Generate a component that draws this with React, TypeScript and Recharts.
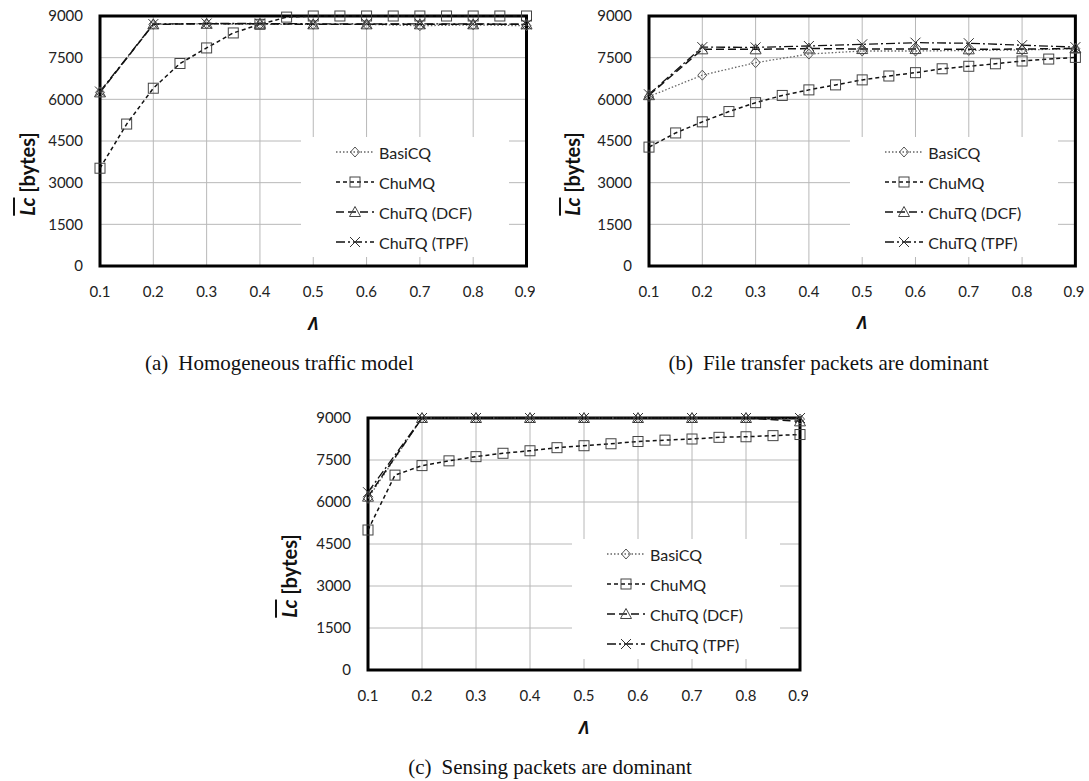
import type { FC, ReactElement } from "react";
import { LineChart, Line, XAxis, YAxis, CartesianGrid, ReferenceArea, Legend } from "recharts";

// x positions: every series is sampled at 0.1 steps except ChuMQ (0.05 steps)
const LAMBDA = [0.1, 0.2, 0.3, 0.4, 0.5, 0.6, 0.7, 0.8, 0.9];
const LAMBDA_FINE = [0.1, 0.15, 0.2, 0.25, 0.3, 0.35, 0.4, 0.45, 0.5, 0.55, 0.6, 0.65, 0.7, 0.75, 0.8, 0.85, 0.9];
const X_TICKS = [0.1, 0.2, 0.3, 0.4, 0.5, 0.6, 0.7, 0.8, 0.9];
const Y_TICKS = [0, 1500, 3000, 4500, 6000, 7500, 9000];

// (a) homogeneous traffic model
const basicqA = [6250, 8700, 8720, 8700, 8700, 8700, 8650, 8680, 8650];
const chumqA = [3520, 5110, 6400, 7290, 7850, 8390, 8700, 8960, 9000, 9000, 9000, 9000, 9000, 9000, 9000, 9000, 9000];
const dcfA = [6250, 8700, 8720, 8720, 8700, 8700, 8700, 8700, 8700];
const tpfA = [6280, 8710, 8730, 8730, 8720, 8720, 8720, 8720, 8700];

// (b) file transfer packets dominant
const basicqB = [6100, 6870, 7320, 7630, 7740, 7740, 7760, 7780, 7820];
const chumqB = [4280, 4790, 5190, 5560, 5880, 6140, 6340, 6520, 6700, 6840, 6960, 7100, 7190, 7280, 7380, 7450, 7510];
const dcfB = [6150, 7800, 7800, 7830, 7810, 7810, 7800, 7810, 7830];
const tpfB = [6180, 7880, 7870, 7920, 7980, 8040, 8020, 7950, 7880];

// (c) sensing packets dominant
const basicqC = [6130, 9000, 9000, 9000, 9000, 9000, 9000, 9000, 8960];
const chumqC = [5000, 6960, 7300, 7470, 7620, 7740, 7830, 7940, 8010, 8080, 8160, 8210, 8250, 8310, 8330, 8370, 8410];
const dcfC = [6190, 9000, 9000, 9000, 9000, 9000, 9000, 9000, 8880];
const tpfC = [6350, 9000, 9000, 9000, 9000, 9000, 9000, 9000, 9000];

type Kind = "diamond" | "square" | "triangle" | "cross";

const SERIES: { key: string; name: string; kind: Kind; dash: string; color: string; width: number }[] = [
  { key: "basicq", name: "BasiCQ", kind: "diamond", dash: "1.5 2", color: "#666", width: 1.3 },
  { key: "chumq", name: "ChuMQ", kind: "square", dash: "4 3", color: "#111", width: 1.5 },
  { key: "dcf", name: "ChuTQ (DCF)", kind: "triangle", dash: "8 4", color: "#111", width: 1.5 },
  { key: "tpf", name: "ChuTQ (TPF)", kind: "cross", dash: "9 3 2 3", color: "#111", width: 1.3 },
];

const toPoints = (xs: number[], ys: number[]) => xs.map((x, i) => ({ x, y: ys[i] }));

const Marker: FC<{ kind: Kind; cx: number; cy: number }> = ({ kind, cx, cy }) => {
  if (kind === "diamond")
    return <polygon points={`${cx},${cy - 5} ${cx + 4.5},${cy} ${cx},${cy + 5} ${cx - 4.5},${cy}`} fill="none" stroke="#555" strokeWidth={1} />;
  if (kind === "square")
    return <rect x={cx - 5} y={cy - 5} width={10} height={10} fill="none" stroke="#444" strokeWidth={1} />;
  if (kind === "triangle")
    return <polygon points={`${cx},${cy - 5.5} ${cx + 5.5},${cy + 4.5} ${cx - 5.5},${cy + 4.5}`} fill="none" stroke="#444" strokeWidth={1} />;
  return <path d={`M${cx - 5},${cy - 5}L${cx + 5},${cy + 5}M${cx + 5},${cy - 5}L${cx - 5},${cy + 5}`} stroke="#333" strokeWidth={1} fill="none" />;
};

const AXIS_W = 100;
const TOP = 16;
const RIGHT = 8;
const BOTTOM_H = 75;
const TICK_STYLE = { fill: "#222", fontSize: 15, fontFamily: "Lato" };

type PanelProps = {
  x: number;
  y: number;
  w: number;
  h: number;
  tag: string;
  caption: string;
  titleOffset: number;
  legendLeft: number;
  values: Record<string, number[]>;
};

const Panel: FC<PanelProps> = ({ x, y, w, h, tag, caption, titleOffset, legendLeft, values }) => {
  const renderLegend = () => (
    <div style={{ position: "relative", width: 208, height: 120, background: "#fff", fontFamily: "Lato", fontSize: 16, color: "#222" }}>
      {SERIES.map((s, i) => (
        <div key={s.key} style={{ position: "absolute", left: 0, top: i * 30, height: 30, display: "flex", alignItems: "center", whiteSpace: "nowrap" }}>
          <svg width={78} height={30}>
            <line x1={35} x2={73} y1={15} y2={15} stroke={s.color} strokeWidth={s.width} strokeDasharray={s.dash} />
            <Marker kind={s.kind} cx={54} cy={15} />
          </svg>
          <span>{s.name}</span>
        </div>
      ))}
    </div>
  );

  return (
    <>
      <div style={{ position: "absolute", left: x - AXIS_W, top: y - TOP }}>
        <LineChart width={AXIS_W + w + RIGHT} height={TOP + h + BOTTOM_H} margin={{ top: TOP, right: RIGHT, bottom: 0, left: 0 }}>
          <CartesianGrid stroke="#b8b8b8" strokeWidth={1} />
          <XAxis
            type="number"
            dataKey="x"
            domain={[0.1, 0.9]}
            ticks={X_TICKS}
            tickFormatter={(v: number) => v.toFixed(1)}
            height={BOTTOM_H}
            tickSize={0}
            tickMargin={20}
            axisLine={false}
            tick={TICK_STYLE}
            label={{
              content: (): ReactElement => (
                <text x={AXIS_W + w / 2} y={TOP + h + 57} textAnchor="middle" dominantBaseline="central" fontFamily="Open Sans" fontWeight="bold" fontStyle="italic" fontSize={17} fill="#111">
                  Λ
                </text>
              ),
            }}
          />
          <YAxis
            type="number"
            domain={[0, 9000]}
            ticks={Y_TICKS}
            width={AXIS_W}
            tickSize={0}
            tickMargin={17}
            axisLine={false}
            tick={TICK_STYLE}
            label={{
              content: (): ReactElement => {
                const cx = AXIS_W - titleOffset;
                const cy = TOP + 158;
                return (
                  <text x={cx} y={cy} transform={`rotate(-90, ${cx}, ${cy})`} textAnchor="middle" dominantBaseline="central" fontFamily="Lato" fontWeight="bold" fontSize={20} fill="#111">
                    <tspan fontStyle="italic" style={{ textDecoration: "overline" }}>Lc</tspan>
                    <tspan> [bytes]</tspan>
                  </text>
                );
              },
            }}
          />
          {SERIES.map((s) => (
            <Line
              key={s.key}
              data={toPoints(s.key === "chumq" ? LAMBDA_FINE : LAMBDA, values[s.key])}
              dataKey="y"
              name={s.name}
              type="linear"
              stroke={s.color}
              strokeWidth={s.width}
              strokeDasharray={s.dash}
              dot={(p: any) => <Marker key={`${s.key}-${p.index}`} kind={s.kind} cx={p.cx} cy={p.cy} />}
              activeDot={false}
              isAnimationActive={false}
            />
          ))}
          <ReferenceArea x1={0.1} x2={0.9} y1={0} y2={9000} fill="none" stroke="#000" strokeWidth={3} />
          <Legend
            layout="vertical"
            align="center"
            verticalAlign="middle"
            content={renderLegend}
            wrapperStyle={{ left: AXIS_W + legendLeft, top: TOP + 121, width: 208, height: 120 }}
          />
        </LineChart>
      </div>
      <div
        style={{
          position: "absolute",
          left: x + w / 2 - 34,
          top: y + h + 97,
          transform: "translate(-50%, -50%)",
          whiteSpace: "nowrap",
          fontFamily: "Liberation Serif",
          fontSize: 21,
          color: "#111",
        }}
      >
        <span>{tag}</span>
        <span style={{ paddingLeft: 10 }}>{caption}</span>
      </div>
    </>
  );
};

export default function App() {
  return (
    <div style={{ position: "absolute", left: 0, top: 0, width: 1089, height: 781, background: "#fff" }}>
      <Panel x={100} y={16} w={426.5} h={250} tag="(a)" caption="Homogeneous traffic model" titleOffset={73} legendLeft={201}
        values={{ basicq: basicqA, chumq: chumqA, dcf: dcfA, tpf: tpfA }} />
      <Panel x={649.3} y={16} w={426.4} h={250} tag="(b)" caption="File transfer packets are dominant" titleOffset={77} legendLeft={201}
        values={{ basicq: basicqB, chumq: chumqB, dcf: dcfB, tpf: tpfB }} />
      <Panel x={368} y={418} w={432} h={252} tag="(c)" caption="Sensing packets are dominant" titleOffset={79} legendLeft={204}
        values={{ basicq: basicqC, chumq: chumqC, dcf: dcfC, tpf: tpfC }} />
    </div>
  );
}
